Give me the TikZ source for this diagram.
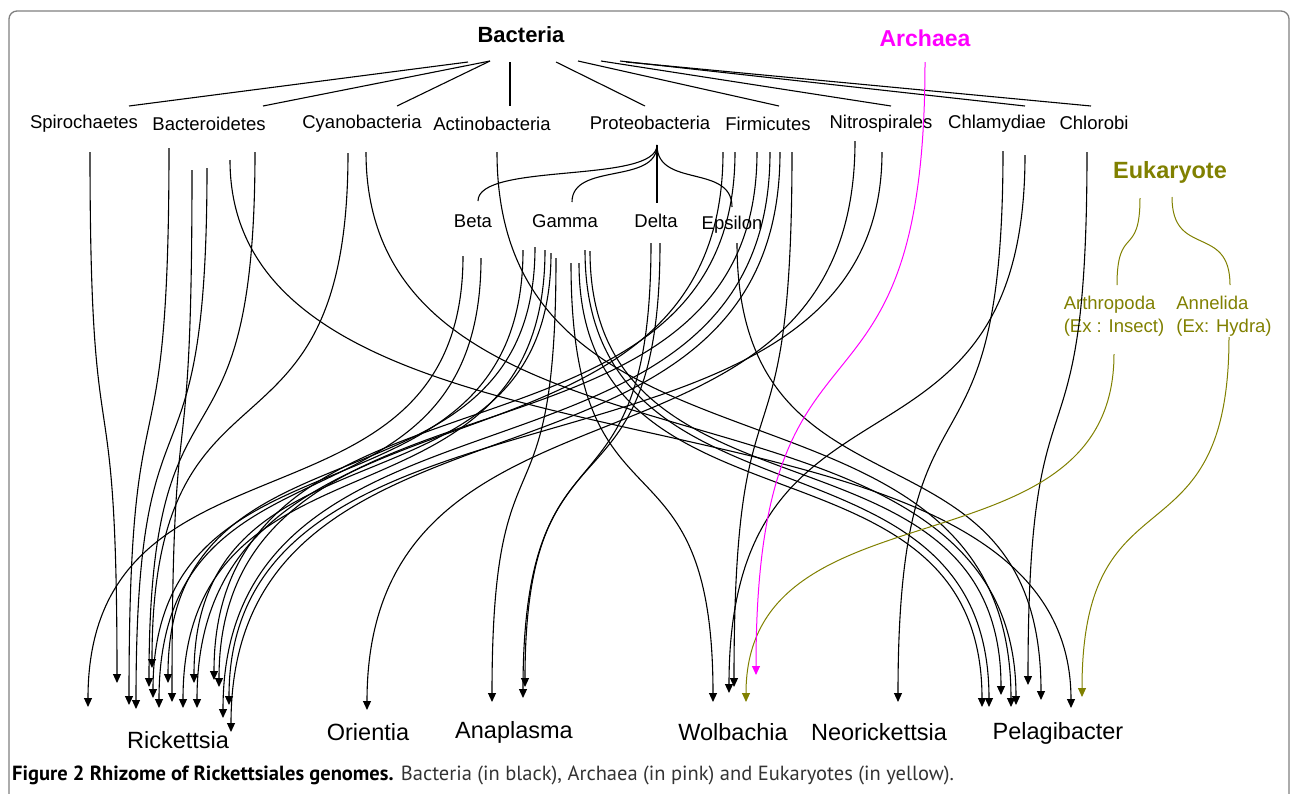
\documentclass[tikz,border=0pt]{standalone}
\usepackage{fontspec}
\setmainfont{Liberation Sans}
\newfontfamily\capfont{PT Sans}
\usetikzlibrary{arrows.meta,calc}
\definecolor{archpink}{RGB}{255,0,255}
\definecolor{eukolive}{RGB}{128,128,0}

\tikzset{
  lab/.style={font=\fontsize{18.5}{23}\selectfont, inner sep=0pt},
  genus/.style={font=\fontsize{23.5}{28}\selectfont, inner sep=0pt},
  kingdom/.style={font=\fontsize{22}{26}\selectfont\bfseries, inner sep=0pt},
  stem/.style={line width=1.1pt},
  rhz/.style={line width=1.1pt, -{Triangle[length=9pt,width=8pt]}},
}

\begin{document}
\begin{tikzpicture}[x=1pt,y=-1pt]
\useasboundingbox (0,0) rectangle (1293,793);
\begin{scope}
  \clip (0,0) rectangle (1293,793);
  \draw[gray, line width=1.3pt, rounded corners=8pt] (9,830) |- (1289,11) -- (1289,830);
\end{scope}

\node[kingdom] (bact) at (521,35) {Bacteria};
\node[kingdom, archpink, font=\fontsize{23}{27}\selectfont\bfseries] (arch) at (925,38) {Archaea};
\node[kingdom, eukolive, font=\fontsize{23.5}{28}\selectfont\bfseries] (euk) at (1170,172) {Eukaryote};

\node[lab] (spiro) at (84,124) {Spirochaetes};
\node[lab] (bactero) at (209,124) {Bacteroidetes};
\node[lab] (cyano) at (362,124) {Cyanobacteria};
\node[lab] (actino) at (492,124) {Actinobacteria};
\node[lab] (proteo) at (650,123) {Proteobacteria};
\node[lab] (firmi) at (768,124) {Firmicutes};
\node[lab] (nitro) at (881,124) {Nitrospirales};
\node[lab] (chlamy) at (997,124) {Chlamydiae};
\node[lab] (chloro) at (1094,123) {Chlorobi};

\node[lab] (beta) at (473,221) {Beta};
\node[lab] (gamma) at (565,221) {Gamma};
\node[lab] (delta) at (656,221) {Delta};
\node[lab] (epsilon) at (732,225) {Epsilon};

\node[lab, eukolive, align=left] (arthro) at (1114,316) {Arthropoda\\(Ex : Insect)};
\node[lab, eukolive, align=left] (annel) at (1224,316) {Annelida\\(Ex: Hydra)};

\node[genus] (ricke) at (178,740) {Rickettsia};
\node[genus] (orient) at (368,732) {Orientia};
\node[genus] (anapl) at (514,732) {Anaplasma};
\node[genus] (wolba) at (733,732) {Wolbachia};
\node[genus] (neori) at (879,732) {Neorickettsia};
\node[genus] (pelag) at (1058,733) {Pelagibacter};

\node[anchor=west, inner sep=0pt, font=\capfont\fontsize{20.5}{24}\selectfont] (cap) at (12,775)
  {\textbf{Figure 2 Rhizome of Rickettsiales genomes.} \color{black!80}Bacteria (in black), Archaea (in pink) and Eukaryotes (in yellow).};

% bacteria to phyla
\foreach \dst/\sx/\sy/\dx/\dy in {spiro/-53/27/45/-18, bactero/-31/26/54/-18, cyano/-31/26/35/-18,
    actino/-11/27/18/-18, proteo/35/27/-5/-17, firmi/57/26/11/-18, nitro/80/26/10/-18,
    chlamy/99/26/28/-18, chloro/105/27/-3/-17}
  \draw[stem] ([shift={(\sx,\sy)}]bact.center) -- ([shift={(\dx,\dy)}]\dst.center);

% proteobacteria classes
\coordinate (bp) at ([shift={(7,22)}]proteo.center);
\foreach \dst/\dx/\dy in {beta/5/-20, gamma/7/-19, delta/1/-18, epsilon/0/-18}{
  \coordinate (q) at ([shift={(\dx,\dy)}]\dst.center);
  \draw[stem] (bp) .. controls ($(bp)!0.7!(bp|-q)$) and ($(q)!0.7!(q|-bp)$) .. (q);
}

% rhizome
\foreach \src/\sx/\sy/\dst/\dx/\dy in {
    spiro/6/28/ricke/-61/-57,
    bactero/-40/24/ricke/-49/-35, bactero/-17/46/ricke/-6/-38, bactero/-2/44/ricke/-42/-31,
    bactero/46/28/ricke/-29/-53, bactero/21/36/pelag/13/-25,
    cyano/-14/29/ricke/-26/-72, cyano/4/28/pelag/-42/-28,
    actino/5/28/pelag/-47/-26,
    beta/-10/35/ricke/-90/-33, beta/8/37/ricke/-19/-32,
    gamma/-42/29/ricke/-25/-42, gamma/-30/26/ricke/-10/-57, gamma/-20/29/ricke/5/-32,
    gamma/-14/32/ricke/16/-57, gamma/-9/37/anapl/-22/-30, gamma/6/42/wolba/-20/-30,
    gamma/14/42/pelag/-76/-26, gamma/20/29/pelag/-69/-26, gamma/25/30/pelag/-57/-38,
    delta/-5/22/anapl/9/-34, delta/4/22/anapl/11/-45,
    epsilon/5/18/pelag/-17/-33,
    firmi/-45/28/ricke/19/-32, firmi/-33/28/ricke/36/-60, firmi/-11/28/ricke/41/-53,
    firmi/2/28/ricke/45/-22, firmi/12/28/ricke/53/-8, firmi/24/28/wolba/1/-45,
    nitro/-26/17/orient/-1/-22, nitro/1/28/ricke/51/-35,
    chlamy/6/27/neori/19/-30, chlamy/28/31/wolba/-4/-39,
    chloro/-7/29/pelag/-30/-48}{
  \coordinate (p) at ([shift={(\sx,\sy)}]\src.center);
  \coordinate (q) at ([shift={(\dx,\dy)}]\dst.center);
  \draw[rhz] (p) .. controls ($(p)!0.65!(p|-q)$) and ($(q)!0.65!(q|-p)$) .. (q);
}

% eukaryote
\foreach \dst/\sx/\sy/\dx/\dy in {arthro/-30/26/3/-31, annel/2/25/6/-31}{
  \coordinate (p) at ([shift={(\sx,\sy)}]euk.center);
  \coordinate (q) at ([shift={(\dx,\dy)}]\dst.center);
  \draw[eukolive, line width=1pt] (p) .. controls ($(p)!0.7!(p|-q)$) and ($(q)!0.7!(q|-p)$) .. (q);
}
\foreach \src/\sx/\sy/\dst/\dx/\dy in {arthro/0/38/wolba/13/-30, annel/5/21/pelag/24/-36}{
  \coordinate (p) at ([shift={(\sx,\sy)}]\src.center);
  \coordinate (q) at ([shift={(\dx,\dy)}]\dst.center);
  \draw[rhz, eukolive, line width=1pt] (p) .. controls ($(p)!0.65!(p|-q)$) and ($(q)!0.65!(q|-p)$) .. (q);
}

% archaea
\coordinate (p) at ([shift={(0,24)}]arch.center);
\coordinate (q) at ([shift={(23,-57)}]wolba.center);
\draw[rhz, archpink, line width=1pt] (p) .. controls ($(p)!0.65!(p|-q)$) and ($(q)!0.65!(q|-p)$) .. (q);
\end{tikzpicture}
\end{document}
